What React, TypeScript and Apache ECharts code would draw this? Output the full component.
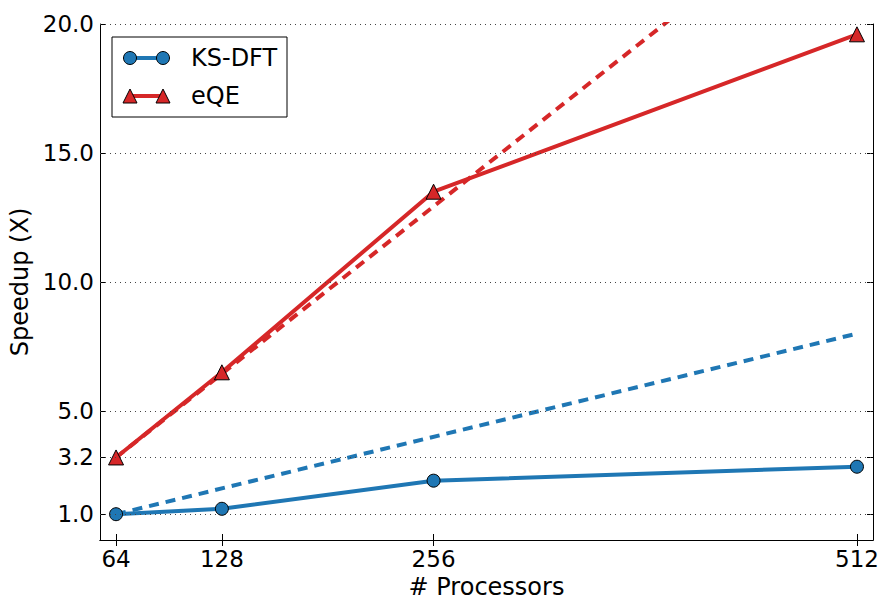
import React, { useEffect, useRef } from "react";
import * as echarts from "echarts";

const processors = [64, 128, 256, 512];
const ksdft = [1.0, 1.21, 2.3, 2.84];
const eqe = [3.2, 6.5, 13.5, 19.6];
const ksdftIdeal = [1.0, 8.0];
const eqeIdeal = [3.2, 25.9];
const idealProcs = [64, 512];
const yTicks = [1.0, 3.2, 5.0, 10.0, 15.0, 20.0];
const xTicks = [64, 128, 256, 512];

const BLUE = "#1f77b4";
const RED = "#d62728";
const FONT = "DejaVu Sans";

export default function App() {
  const ref = useRef<HTMLDivElement>(null);
  useEffect(() => {
    document.body.style.margin = "0";
    const chart = echarts.init(ref.current!, null, { renderer: "svg" });
    const pairs = (xs: number[], ys: number[]) => xs.map((x, i) => [x, ys[i]]);
    const xMin = 54.3;
    const xMax = 521.7;
    const option: any = {
      animation: false,
      backgroundColor: "#fff",
      textStyle: { fontFamily: FONT },
      grid: { left: 100, right: 10, top: 24, bottom: 59, outerBoundsMode: "none", containLabel: false },
      xAxis: [
        {
          type: "value",
          min: xMin,
          max: xMax,
          name: "# Processors",
          nameLocation: "middle",
          nameGap: 35,
          nameTextStyle: { fontSize: 24, color: "#000", fontFamily: FONT, lineHeight: 22 },
          axisLine: { show: true, lineStyle: { color: "#000", width: 1 } },
          axisTick: { show: true, inside: true, length: 6, customValues: xTicks, lineStyle: { color: "#000" } },
          axisLabel: { customValues: xTicks, fontSize: 23, color: "#000", margin: 7, fontFamily: FONT },
          splitLine: { show: false },
        },
        {
          type: "value",
          position: "top",
          min: xMin,
          max: xMax,
          axisLine: { show: true, lineStyle: { color: "#000", width: 1 } },
          axisTick: { show: true, inside: true, length: 6, customValues: xTicks, lineStyle: { color: "#000" } },
          axisLabel: { show: false },
          splitLine: { show: false },
        },
      ],
      yAxis: [
        {
          type: "value",
          min: 0,
          max: 20,
          name: "Speedup (X)",
          nameLocation: "middle",
          nameGap: 64,
          nameRotate: 90,
          nameTextStyle: { fontSize: 24, color: "#000", fontFamily: FONT },
          axisLine: { show: true, lineStyle: { color: "#000", width: 1 } },
          axisTick: { show: true, inside: true, length: 6, customValues: yTicks, lineStyle: { color: "#000" } },
          axisLabel: {
            customValues: yTicks,
            fontSize: 23,
            color: "#000",
            margin: 6,
            fontFamily: FONT,
            formatter: (v: number) => v.toFixed(1),
          },
          splitLine: { show: false },
        },
        {
          type: "value",
          position: "right",
          min: 0,
          max: 20,
          axisLine: { show: true, lineStyle: { color: "#000", width: 1 } },
          axisTick: { show: true, inside: true, length: 6, customValues: yTicks, lineStyle: { color: "#000" } },
          axisLabel: { show: false },
          splitLine: { show: false },
        },
      ],
      series: [
        {
          type: "line",
          name: "grid",
          data: [],
          z: 1,
          silent: true,
          markLine: {
            silent: true,
            symbol: "none",
            label: { show: false },
            lineStyle: { color: "#444", width: 1, type: [1, 4] },
            data: yTicks.map((v) => ({ yAxis: v })),
          },
        },
        {
          type: "line",
          name: "KS-DFT ideal",
          data: pairs(idealProcs, ksdftIdeal),
          showSymbol: false,
          symbol: "none",
          lineStyle: { color: BLUE, width: 4, type: [10, 7] },
          z: 2,
        },
        {
          type: "line",
          name: "eQE ideal",
          data: pairs(idealProcs, eqeIdeal),
          showSymbol: false,
          symbol: "none",
          clip: true,
          lineStyle: { color: RED, width: 4, type: [10, 7] },
          z: 2,
        },
        {
          type: "line",
          name: "KS-DFT",
          data: pairs(processors, ksdft),
          symbol: "circle",
          symbolSize: 13,
          lineStyle: { color: BLUE, width: 4 },
          itemStyle: { color: BLUE, borderColor: "#000", borderWidth: 1 },
          z: 3,
        },
        {
          type: "line",
          name: "eQE",
          data: pairs(processors, eqe),
          symbol: "triangle",
          symbolSize: 15,
          clip: false,
          lineStyle: { color: RED, width: 4 },
          itemStyle: { color: RED, borderColor: "#000", borderWidth: 1 },
          z: 3,
        },
      ],
      graphic: [
        {
          type: "group",
          z: 100,
          children: [
            {
              type: "rect",
              shape: { x: 112, y: 37, width: 175, height: 80 },
              style: { fill: "#fff", stroke: "#000", lineWidth: 1 },
            },
            { type: "line", shape: { x1: 130, y1: 58, x2: 163, y2: 58 }, style: { stroke: BLUE, lineWidth: 4 } },
            { type: "circle", shape: { cx: 130, cy: 58, r: 6.5 }, style: { fill: BLUE, stroke: "#000", lineWidth: 1 } },
            { type: "circle", shape: { cx: 163, cy: 58, r: 6.5 }, style: { fill: BLUE, stroke: "#000", lineWidth: 1 } },
            {
              type: "text",
              x: 191,
              y: 58,
              style: { text: "KS-DFT", font: `24px ${FONT}`, fill: "#000", verticalAlign: "middle", align: "left" },
            },
            { type: "line", shape: { x1: 130, y1: 96, x2: 163, y2: 96 }, style: { stroke: RED, lineWidth: 4 } },
            {
              type: "polygon",
              shape: { points: [[130, 89], [123, 103], [137, 103]] },
              style: { fill: RED, stroke: "#000", lineWidth: 1 },
            },
            {
              type: "polygon",
              shape: { points: [[163, 89], [156, 103], [170, 103]] },
              style: { fill: RED, stroke: "#000", lineWidth: 1 },
            },
            {
              type: "text",
              x: 191,
              y: 96,
              style: { text: "eQE", font: `24px ${FONT}`, fill: "#000", verticalAlign: "middle", align: "left" },
            },
          ],
        },
      ],
    };
    chart.setOption(option);
    return () => chart.dispose();
  }, []);
  return <div ref={ref} style={{ width: 883, height: 599, position: "absolute", left: 0, top: 0 }} />;
}
